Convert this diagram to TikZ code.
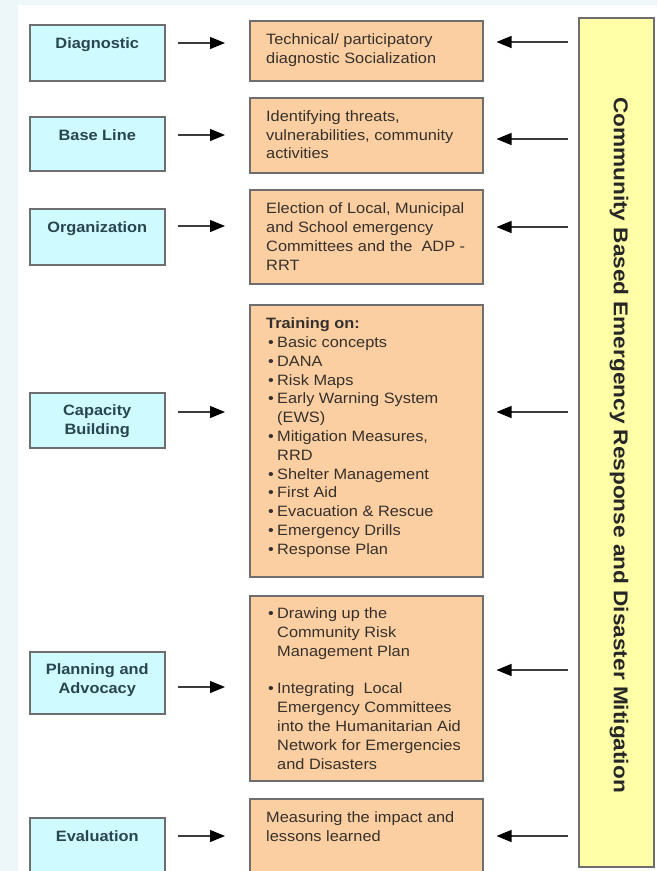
\documentclass[tikz,border=0pt]{standalone}
\usepackage{fontspec}
\setmainfont{Liberation Sans}
\newfontfamily\boxfont[FakeStretch=1.09]{Liberation Sans}
\newfontfamily\sidefont[FakeStretch=1.13]{Liberation Sans}
\usetikzlibrary{arrows.meta,calc}
\definecolor{bgblue}{HTML}{EDF6F9}
\definecolor{bluefill}{HTML}{CFFAFF}
\definecolor{orangefill}{HTML}{FCCFA2}
\definecolor{yellowfill}{HTML}{FFFFA8}
\definecolor{boxline}{HTML}{6E6E6E}
\definecolor{bluetext}{HTML}{284550}
\definecolor{orangetext}{HTML}{35302B}
\definecolor{arrowcol}{HTML}{3C3C3C}
\newcommand{\itembul}{\makebox[11pt][l]{\hspace{2pt}\textbullet}}
\newcommand{\topstrut}{\rule{0pt}{14pt}}
\tikzset{
  box/.style={draw=boxline, line width=1.5pt, anchor=north west, inner sep=0pt},
  bluebox/.style={box, fill=bluefill, minimum width=135pt},
  orangebox/.style={box, fill=orangefill, minimum width=233pt},
  yellowbox/.style={box, fill=yellowfill, minimum width=75pt},
  bluelabel/.style={anchor=north, align=center, inner sep=0pt, text=bluetext,
    font=\boxfont\fontsize{15}{18.8}\selectfont\bfseries},
  orangelabel/.style={anchor=north west, align=left, inner sep=0pt, text=orangetext,
    font=\boxfont\fontsize{15}{18.8}\selectfont},
  sidelabel/.style={rotate=-90, inner sep=0pt, text=black!85,
    font=\sidefont\fontsize{20}{24}\selectfont\bfseries},
  arr/.style={draw=arrowcol, line width=1.2pt,
    -{Triangle[length=15pt,width=12pt,color=black,fill=black]}}
}
\begin{document}
\begin{tikzpicture}[x=1pt,y=-1pt]
\useasboundingbox (0,0) rectangle (657,871);
\clip (0,0) rectangle (657,871);
\fill[bgblue] (0,0) rectangle (657,871);
\fill[white] (18,5) rectangle (657,871);

% left column
\node[bluebox, minimum height=56pt] (b1) at (29,24) {};
\node[bluebox, minimum height=54pt] (b2) at (29,116) {};
\node[bluebox, minimum height=56pt] (b3) at (29,208) {};
\node[bluebox, minimum height=55pt] (b4) at (29,392) {};
\node[bluebox, minimum height=62pt] (b5) at (29,651) {};
\node[bluebox, minimum height=70pt] (b6) at (29,817) {};

\node[bluelabel] (t1) at ($(b1.north)+(0,10.5)$) {\topstrut Diagnostic};
\node[bluelabel] (t2) at ($(b2.north)+(0,10.5)$) {\topstrut Base Line};
\node[bluelabel] (t3) at ($(b3.north)+(0,10)$) {\topstrut Organization};
\node[bluelabel] (t4) at ($(b4.north)+(0,9.5)$) {\topstrut Capacity\\Building};
\node[bluelabel] (t5) at ($(b5.north)+(0,9.5)$) {\topstrut Planning and\\Advocacy};
\node[bluelabel] (t6) at ($(b6.north)+(0,10)$) {\topstrut Evaluation};

% middle column
\node[orangebox, minimum height=60pt] (o1) at (249,20) {};
\node[orangebox, minimum height=75pt] (o2) at (249,97) {};
\node[orangebox, minimum height=94pt] (o3) at (249,189) {};
\node[orangebox, minimum height=272pt] (o4) at (249,304) {};
\node[orangebox, minimum height=185pt] (o5) at (249,595) {};
\node[orangebox, minimum height=90pt] (o6) at (249,798) {};

\node[orangelabel] (u1) at ($(o1.north west)+(17,10)$)
  {\topstrut Technical/ participatory\\diagnostic Socialization};
\node[orangelabel] (u2) at ($(o2.north west)+(17,10)$)
  {\topstrut Identifying threats,\\vulnerabilities, community\\activities};
\node[orangelabel] (u3) at ($(o3.north west)+(17,10.5)$)
  {\topstrut Election of Local, Municipal\\and School emergency\\Committees and the\ \ ADP -\\RRT};
\node[orangelabel] (u4) at ($(o4.north west)+(17,10.5)$)
  {\topstrut\textbf{Training on:}\\
   \itembul Basic concepts\\
   \itembul DANA\\
   \itembul Risk Maps\\
   \itembul Early Warning System\\
   \hspace*{11pt}(EWS)\\
   \itembul Mitigation Measures,\\
   \hspace*{11pt}RRD\\
   \itembul Shelter Management\\
   \itembul First Aid\\
   \itembul Evacuation \& Rescue\\
   \itembul Emergency Drills\\
   \itembul Response Plan};
\node[orangelabel] (u5) at ($(o5.north west)+(17,9.5)$)
  {\topstrut\itembul Drawing up the\\
   \hspace*{11pt}Community Risk\\
   \hspace*{11pt}Management Plan\\[18.8pt]
   \itembul Integrating\ \ Local\\
   \hspace*{11pt}Emergency Committees\\
   \hspace*{11pt}into the Humanitarian Aid\\
   \hspace*{11pt}Network for Emergencies\\
   \hspace*{11pt}and Disasters};
\node[orangelabel] (u6) at ($(o6.north west)+(17,10.5)$)
  {\topstrut Measuring the impact and\\lessons learned};

% right column
\node[yellowbox, minimum height=849pt] (y) at (578,17) {};
\node[sidelabel] (side) at (619,445)
  {Community Based Emergency Response and Disaster Mitigation};

% arrows left -> middle
\draw[arr] ($(b1.east |- 0,43)+(12,0)$)  -- ($(o1.west |- 0,43)+(-24,0)$);
\draw[arr] ($(b2.east |- 0,135)+(12,0)$) -- ($(o2.west |- 0,135)+(-24,0)$);
\draw[arr] ($(b3.east |- 0,226)+(12,0)$) -- ($(o3.west |- 0,226)+(-24,0)$);
\draw[arr] ($(b4.east |- 0,412)+(12,0)$) -- ($(o4.west |- 0,412)+(-24,0)$);
\draw[arr] ($(b5.east |- 0,687)+(12,0)$) -- ($(o5.west |- 0,687)+(-24,0)$);
\draw[arr] ($(b6.east |- 0,836)+(12,0)$) -- ($(o6.west |- 0,836)+(-24,0)$);

% arrows right -> middle
\draw[arr] ($(y.west |- 0,42)+(-10,0)$)  -- ($(o1.east |- 0,42)+(13,0)$);
\draw[arr] ($(y.west |- 0,139)+(-10,0)$) -- ($(o2.east |- 0,139)+(13,0)$);
\draw[arr] ($(y.west |- 0,227)+(-10,0)$) -- ($(o3.east |- 0,227)+(13,0)$);
\draw[arr] ($(y.west |- 0,412)+(-10,0)$) -- ($(o4.east |- 0,412)+(13,0)$);
\draw[arr] ($(y.west |- 0,670)+(-10,0)$) -- ($(o5.east |- 0,670)+(13,0)$);
\draw[arr] ($(y.west |- 0,836)+(-10,0)$) -- ($(o6.east |- 0,836)+(13,0)$);
\end{tikzpicture}
\end{document}
